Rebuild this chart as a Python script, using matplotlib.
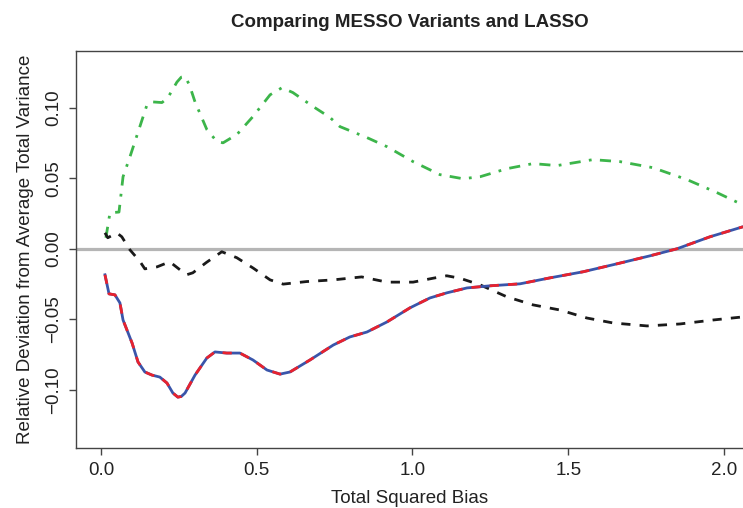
import matplotlib
matplotlib.use("Agg")
import matplotlib.pyplot as plt

plt.rcParams['font.family'] = ['Liberation Sans', 'DejaVu Sans']

# MESSO variant with the wide spread (green, dot-dash)
bias_green = [0.016, 0.029, 0.058, 0.071, 0.093, 0.125, 0.148, 0.164, 0.196, 0.215,
              0.244, 0.258, 0.270, 0.284, 0.302, 0.340, 0.372, 0.392, 0.437, 0.488, 0.543, 0.581,
              0.616, 0.681, 0.735, 0.767, 0.854, 0.918, 1.002, 1.088, 1.162, 1.217,
              1.303, 1.387, 1.464, 1.579, 1.666, 1.772, 1.881, 1.978, 2.061]
dev_green = [0.0078, 0.0255, 0.026, 0.051, 0.065, 0.0865, 0.102, 0.104, 0.1035, 0.107,
             0.118, 0.1215, 0.122, 0.116, 0.104, 0.0844, 0.076, 0.075, 0.081, 0.0936, 0.109, 0.114,
             0.1106, 0.1007, 0.093, 0.0865, 0.0787, 0.0723, 0.0617, 0.0525, 0.0496, 0.051,
             0.0567, 0.0603, 0.0589, 0.0631, 0.0617, 0.0574, 0.049, 0.0397, 0.031]

# LASSO (black, dashed)
bias_black = [0.013, 0.022, 0.051, 0.067, 0.093, 0.125, 0.141, 0.180, 0.221, 0.254,
              0.275, 0.295, 0.339, 0.388, 0.436, 0.489, 0.543, 0.585, 0.660, 0.746,
              0.837, 0.918, 1.002, 1.067, 1.110, 1.152, 1.217, 1.303, 1.387, 1.473,
              1.560, 1.644, 1.753, 1.859, 1.965, 2.061]
dev_black = [0.0113, 0.0078, 0.0113, 0.0085, -0.0007, -0.0089, -0.0142, -0.0128, -0.0092, -0.0149,
             -0.0184, -0.0170, -0.0096, -0.0021, -0.0063, -0.0137, -0.0220, -0.0250, -0.0232, -0.022,
             -0.0199, -0.0236, -0.0236, -0.0208, -0.0191, -0.0208, -0.0255, -0.0340, -0.0397, -0.0433,
             -0.049, -0.0525, -0.0546, -0.0532, -0.0504, -0.0482]

# the two remaining MESSO variants lie on top of each other (blue solid, red dashed)
bias_pair = [0.013, 0.026, 0.045, 0.061, 0.071, 0.100, 0.119, 0.141, 0.164, 0.189,
             0.212, 0.231, 0.247, 0.258, 0.270, 0.302, 0.340, 0.366, 0.404, 0.446, 0.488,
             0.533, 0.575, 0.607, 0.671, 0.746, 0.799, 0.854, 0.918, 0.992, 1.056,
             1.110, 1.175, 1.249, 1.345, 1.441, 1.547, 1.657, 1.762, 1.849, 1.955, 2.061]
dev_blue = [-0.0184, -0.0319, -0.0326, -0.0383, -0.0504, -0.0667, -0.0801, -0.0872, -0.0894, -0.0908,
            -0.0950, -0.1021, -0.1050, -0.1045, -0.1021, -0.0894, -0.0773, -0.0730, -0.0738, -0.0738, -0.0787,
            -0.0858, -0.0887, -0.0872, -0.0787, -0.0681, -0.0624, -0.0589, -0.0518, -0.0418, -0.0348,
            -0.0312, -0.0277, -0.0262, -0.0248, -0.0206, -0.0163, -0.0106, -0.0050, 0.000, 0.0085, 0.0156]
dev_red = list(dev_blue)

xticks = [0.0, 0.5, 1.0, 1.5, 2.0]
yticks = [-0.10, -0.05, 0.00, 0.05, 0.10]

fig = plt.figure(figsize=(7.43, 5.08), dpi=100)
ax = fig.add_axes([76 / 743, 60 / 508, 667 / 743, 397 / 508])

ax.axhline(0, color='#b5b5b5', lw=2.3, zorder=1)
ax.plot(bias_green, dev_green, color='#3cb54a', lw=2.0, dashes=(4, 3, 1, 3), zorder=2)
ax.plot(bias_black, dev_black, color='#1a1a1a', lw=2.0, dashes=(3.3, 3.3), zorder=3)
ax.plot(bias_pair, dev_blue, color='#3a55aa', lw=2.0, zorder=4)
ax.plot(bias_pair, dev_red, color='#e8222e', lw=2.0, dashes=(3.3, 3.3), zorder=5)

ax.set_xlim(-0.08, 2.061)
ax.set_ylim(-0.141, 0.140)
ax.set_xticks(xticks)
ax.set_xticklabels(['%.1f' % v for v in xticks])
ax.set_yticks(yticks)
ax.set_yticklabels([('%.2f' % v).replace('-', '\u2212') for v in yticks],
                   rotation=90, va='center')

for side in ['left', 'bottom', 'top']:
    ax.spines[side].set_color('#444444')
    ax.spines[side].set_linewidth(1.0)
ax.spines['right'].set_visible(False)
ax.tick_params(axis='both', length=5, width=1.0, color='#444444', labelsize=13.5,
               labelcolor='#222222', pad=5)

ax.set_xlabel('Total Squared Bias', fontsize=13.5, color='#222222', labelpad=8)
ax.set_ylabel('Relative Deviation from Average Total Variance', fontsize=13.5,
              color='#222222', labelpad=8)
ax.set_title('Comparing MESSO Variants and LASSO', fontsize=13.5, fontweight='bold',
             color='#222222', pad=17)

fig.savefig('out.png', dpi=100)
